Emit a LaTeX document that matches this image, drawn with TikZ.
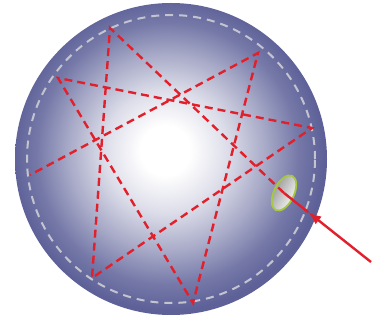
\documentclass[tikz,border=0pt]{standalone}
\usetikzlibrary{arrows.meta,calc}

\definecolor{sphblue}{HTML}{5D6198}
\definecolor{rimgray}{HTML}{C4C4D0}
\definecolor{rayred}{HTML}{E2202C}
\definecolor{holegreen}{HTML}{A6C93A}

\pgfdeclareradialshading{sphereshade}{\pgfpoint{-1bp}{1.5bp}}{%
  color(0bp)=(white); color(4bp)=(white); color(10bp)=(sphblue!22!white);
  color(16bp)=(sphblue!55!white); color(21bp)=(sphblue!85!white);
  color(25bp)=(sphblue); color(50bp)=(sphblue)}

\tikzset{
  ray/.style={rayred, line width=2.4pt, dash pattern=on 8pt off 5pt, line join=miter},
  beam/.style={rayred, line width=2.4pt}
}

\begin{document}
\begin{tikzpicture}[x=1pt,y=-1pt]
    \useasboundingbox (0,0) rectangle (372,320);

    % Sphere
    \coordinate (O) at (171,159);
    \shade[shading=sphereshade] (O) circle [radius=156pt];
    \draw[rimgray, line width=2pt, dash pattern=on 8pt off 6pt] (O) circle [radius=144pt];

    % Bounce points
    \coordinate (A) at (110,28);
    \coordinate (B) at (258,53);
    \coordinate (C) at (312,128);
    \coordinate (D) at (193,303);
    \coordinate (E) at (92,278);
    \coordinate (F) at (30,175);
    \coordinate (G) at (58,78);

    % Hole
    \coordinate (P) at (284,193);
    \shade[left color=gray!85, right color=white, shading angle=60, rotate around={-26:(P)}]
        (P) ellipse [x radius=10pt, y radius=19pt];
    \draw[holegreen, line width=1.8pt, rotate around={-26:(P)}]
        (P) ellipse [x radius=10pt, y radius=19pt];

    % Incoming beam
    \coordinate (Q) at (371,262);
    \coordinate (T) at ($(Q)!0.72!(P)$);
    \draw[beam, -{Latex[length=13pt,width=10pt]}] (Q) -- (T);
    \draw[beam] (T) -- (P);

    % Reflected path
    \draw[ray] (P) -- (A) -- (E) -- (C) -- (G) -- (D) -- (B) -- (F);
\end{tikzpicture}
\end{document}
